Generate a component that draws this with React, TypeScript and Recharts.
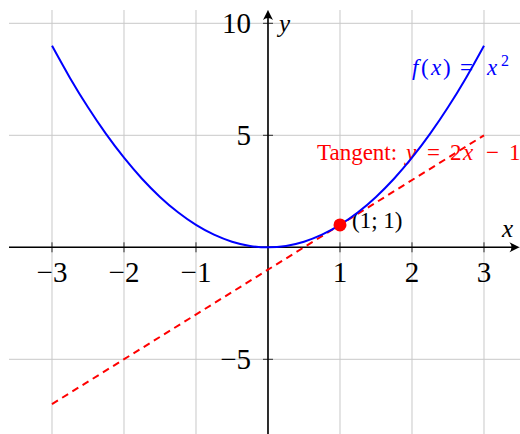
import { ComposedChart, Line, XAxis, YAxis, ReferenceLine, ReferenceDot } from "recharts"

// f(x) = x^2 sampled every quarter unit
const parabolaX = [-3, -2.75, -2.5, -2.25, -2, -1.75, -1.5, -1.25, -1, -0.75, -0.5, -0.25, 0, 0.25, 0.5, 0.75, 1, 1.25, 1.5, 1.75, 2, 2.25, 2.5, 2.75, 3]
const parabolaY = [9, 7.5625, 6.25, 5.0625, 4, 3.0625, 2.25, 1.5625, 1, 0.5625, 0.25, 0.0625, 0, 0.0625, 0.25, 0.5625, 1, 1.5625, 2.25, 3.0625, 4, 5.0625, 6.25, 7.5625, 9]

// tangent y = 2x - 1, end points
const tangentX = [-3, 3]
const tangentY = [-7, 5]

const touchX = 1
const touchY = 1

const gridX = [-3, -2, -1, 0, 1, 2, 3]
const gridY = [-5, 0, 5, 10]
const xTickValues = [-3, -2, -1, 1, 2, 3]
const yTickValues = [-5, 5, 10]

const parabola = parabolaX.map((x, i) => ({ x, y: parabolaY[i] }))
const tangent = tangentX.map((x, i) => ({ x, y: tangentY[i] }))

const FONT = "'Liberation Serif', 'DejaVu Serif', serif"
const TICK_SIZE = 29
const NOTE_SIZE = 23

const fmt = (v: number) => (v < 0 ? `\u2212${-v}` : String(v))

const xTick = (label: string) => (p: any) => (
  <g>
    <line x1={p.cx} x2={p.cx} y1={p.cy - 5} y2={p.cy + 5} stroke="#000" strokeWidth={0.8} />
    <text x={p.cx} y={p.cy + 35} textAnchor="middle" fontSize={TICK_SIZE} fontFamily={FONT} fill="#000">
      {label}
    </text>
  </g>
)

const yTick = (label: string) => (p: any) => (
  <g>
    <line x1={p.cx - 5} x2={p.cx + 5} y1={p.cy} y2={p.cy} stroke="#000" strokeWidth={0.8} />
    <text x={p.cx - 17} y={p.cy + 10} textAnchor="end" fontSize={TICK_SIZE} fontFamily={FONT} fill="#000">
      {label}
    </text>
  </g>
)

const xAxisLine = (p: any) => {
  const left = Math.min(p.x1, p.x2)
  const right = Math.max(p.x1, p.x2) - 0.5
  const y = p.y1
  return (
    <g>
      <line x1={left} x2={right - 3} y1={y} y2={y} stroke="#000" strokeWidth={1.6} />
      <path d={`M${right} ${y} L${right - 10} ${y - 5} Q${right - 6} ${y} ${right - 10} ${y + 5} Z`} fill="#000" />
    </g>
  )
}

const yAxisLine = (p: any) => {
  const top = Math.min(p.y1, p.y2)
  const bottom = Math.max(p.y1, p.y2)
  const x = p.x1
  return (
    <g>
      <line x1={x} x2={x} y1={top + 3} y2={bottom} stroke="#000" strokeWidth={1.6} />
      <path d={`M${x} ${top} L${x - 5} ${top + 10} Q${x} ${top + 6} ${x + 5} ${top + 10} Z`} fill="#000" />
    </g>
  )
}

// math-style spacing: each glyph group placed on its own
const parabolaLabel = (p: any) => {
  const y = p.cy + 29
  return (
    <text y={y} fontSize={NOTE_SIZE} fontFamily={FONT} fill="#0000ff">
      <tspan x={p.cx - 72} fontStyle="italic">f</tspan>
      <tspan x={p.cx - 63}>(</tspan>
      <tspan x={p.cx - 53} fontStyle="italic">x</tspan>
      <tspan x={p.cx - 41}>)</tspan>
      <tspan x={p.cx - 24}>=</tspan>
      <tspan x={p.cx + 3} fontStyle="italic">x</tspan>
      <tspan x={p.cx + 17} dy={-9} fontSize={16}>2</tspan>
    </text>
  )
}

const tangentLabel = (p: any) => {
  const y = p.cy + 25
  return (
    <text y={y} fontSize={NOTE_SIZE} fontFamily={FONT} fill="#ff0000">
      <tspan x={p.cx - 167}>Tangent:</tspan>
      <tspan x={p.cx - 78} fontStyle="italic">y</tspan>
      <tspan x={p.cx - 57}>=</tspan>
      <tspan x={p.cx - 34}>2</tspan>
      <tspan x={p.cx - 21} fontStyle="italic">x</tspan>
      <tspan x={p.cx + 2}>{"\u2212"}</tspan>
      <tspan x={p.cx + 25}>1</tspan>
    </text>
  )
}

const pointLabel = (p: any) => (
  <text x={p.cx + 12} y={p.cy + 3} fontSize={NOTE_SIZE} fontFamily={FONT} fill="#000">
    (1; 1)
  </text>
)

const axisNameX = (p: any) => (
  <text x={p.cx + 18} y={p.cy - 10} fontSize={25} fontFamily={FONT} fontStyle="italic" fill="#000">
    x
  </text>
)

const axisNameY = (p: any) => (
  <text x={p.cx + 11} y={p.cy + 9} fontSize={25} fontFamily={FONT} fontStyle="italic" fill="#000">
    y
  </text>
)

export default function App() {
  return (
    <div style={{ position: "absolute", left: 0, top: 0, width: 520, height: 434, background: "#fff" }}>
      <ComposedChart width={520} height={434} margin={{ top: 10, right: 0, bottom: 0, left: 9 }}>
        <XAxis type="number" dataKey="x" domain={[-3.597, 3.5]} allowDataOverflow hide />
        <YAxis type="number" dataKey="y" domain={[-8.335, 10.594]} allowDataOverflow hide />

        {gridX.map((v) => (
          <ReferenceLine key={`gx${v}`} x={v} stroke="#c8c8c8" strokeWidth={1} zIndex={-100} />
        ))}
        {gridY.map((v) => (
          <ReferenceLine key={`gy${v}`} y={v} stroke="#c8c8c8" strokeWidth={1} zIndex={-100} />
        ))}

        <ReferenceLine y={0} shape={xAxisLine} zIndex={100} />
        <ReferenceLine x={0} shape={yAxisLine} zIndex={100} />

        {xTickValues.map((v) => (
          <ReferenceDot key={`tx${v}`} x={v} y={0} r={1} shape={xTick(fmt(v))} zIndex={150} />
        ))}
        {yTickValues.map((v) => (
          <ReferenceDot key={`ty${v}`} x={0} y={v} r={1} shape={yTick(fmt(v))} zIndex={150} />
        ))}

        <ReferenceDot x={3} y={9} r={1} shape={parabolaLabel} zIndex={150} />
        <ReferenceDot x={3} y={5} r={1} shape={tangentLabel} zIndex={150} />
        <ReferenceDot x={3} y={0} r={1} shape={axisNameX} zIndex={150} />
        <ReferenceDot x={0} y={10} r={1} shape={axisNameY} zIndex={150} />
        <ReferenceDot x={touchX} y={touchY} r={1} shape={pointLabel} zIndex={150} />

        <Line
          data={tangent}
          dataKey="y"
          type="linear"
          stroke="#ff0000"
          strokeWidth={2}
          strokeDasharray="7 5"
          dot={false}
          activeDot={false}
          isAnimationActive={false}
          zIndex={400}
        />
        <Line
          data={parabola}
          dataKey="y"
          type="monotone"
          stroke="#0000ff"
          strokeWidth={2}
          dot={false}
          activeDot={false}
          isAnimationActive={false}
          zIndex={400}
        />

        <ReferenceDot x={touchX} y={touchY} r={6.5} fill="#ff0000" stroke="none" zIndex={600} />
      </ComposedChart>
    </div>
  )
}
